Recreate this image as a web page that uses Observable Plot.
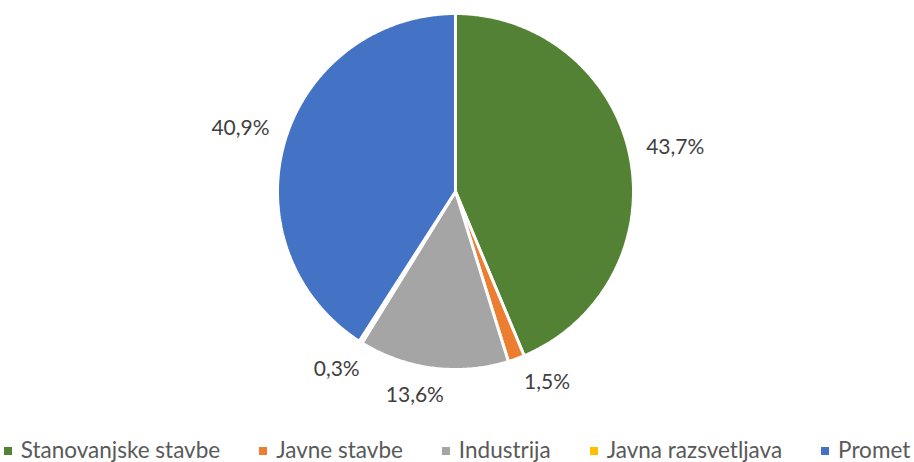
<!DOCTYPE html>
<html><head><meta charset="utf-8">
<script src="https://cdn.jsdelivr.net/npm/d3@7"></script>
<script src="https://cdn.jsdelivr.net/npm/@observablehq/plot@0.6"></script>
<style>
body{margin:0;background:#fff;font-family:Lato,"Open Sans",sans-serif;}
#chart svg{display:block}
#legend{display:flex;justify-content:center;gap:39px;font-size:22.5px;line-height:27px;color:#595959;margin-top:11px;}
#legend span.sw{display:inline-block;width:8px;height:8px;margin-right:9px;vertical-align:middle;position:relative;top:-1px}
</style></head><body>
<div id="chart"></div>
<div id="legend"></div>
<script>
const categories = ["Stanovanjske stavbe","Javne stavbe","Industrija","Javna razsvetljava","Promet"];
const values = [43.7, 1.5, 13.6, 0.3, 40.9];
const labels = ["43,7%","1,5%","13,6%","0,3%","40,9%"];
const colors = ["#548235","#ED7D31","#A5A5A5","#FFC000","#4472C4"];

const W = 914, H = 425, cx = 455, cy = 191, R = 178, FS = 21;
const total = d3.sum(values);
const ctx = document.createElement("canvas").getContext("2d");
ctx.font = `${FS}px Lato`;

let cum = 0;
const slicePts = [], lab = [];
categories.forEach((c,i)=>{
  const a0 = cum/total*2*Math.PI; cum += values[i];
  const a1 = cum/total*2*Math.PI;
  slicePts.push({c, x:0, y:0});
  const n = Math.max(2, Math.ceil((a1-a0)/(Math.PI/360)));
  for(let k=0;k<=n;k++){const a=a0+(a1-a0)*k/n; slicePts.push({c,x:Math.sin(a),y:Math.cos(a)});}
  slicePts.push({c, x:0, y:0});
  lab.push({c, t:labels[i], a:(a0+a1)/2, w:ctx.measureText(labels[i]).width, h:16});
});

// place each label just outside the rim, then resolve collisions by sliding along the rim
function place(l){
  const ux = Math.sin(l.a), uy = Math.cos(l.a);
  const rr = R + 16 + Math.abs(ux)*l.w/2 + Math.abs(uy)*l.h/2;
  l.px = cx + ux*rr; l.py = cy - uy*rr;
}
lab.forEach(place);
const padX = 40, padY = 5, step = 0.1*Math.PI/180;
for(let it=0; it<2000; it++){
  let moved = false;
  for(let i=0;i<lab.length;i++){
    const A = lab[i], B = lab[(i+1)%lab.length];
    const ox = (A.w+B.w)/2 + 2*padX - Math.abs(A.px-B.px);
    const oy = (A.h+B.h)/2 + 2*padY - Math.abs(A.py-B.py);
    if(ox>0 && oy>0){ A.a -= step; B.a += step; place(A); place(B); moved = true; }
  }
  if(!moved) break;
}
const labelPts = lab.map(l=>({c:l.c, t:l.t, x:(l.px-cx)/R, y:(cy-l.py)/R}));

const plot = Plot.plot({
  width: W, height: H, margin: 0,
  x: {domain:[-1,1], range:[cx-R, cx+R], axis:null},
  y: {domain:[-1,1], range:[cy+R, cy-R], axis:null},
  color: {domain: categories, range: colors},
  style: {fontFamily: "Lato, 'Open Sans', sans-serif"},
  marks: [
    Plot.line(slicePts, {x:"x", y:"y", z:"c", fill:"c", stroke:"white", strokeWidth:3, strokeLinejoin:"miter"}),
    Plot.text(labelPts, {x:"x", y:"y", text:"t", fontSize:FS, fill:"#404040"})
  ]
});
document.getElementById("chart").append(plot);

const lg = document.getElementById("legend");
categories.forEach((c,i)=>{
  const it = document.createElement("div");
  it.innerHTML = `<span class="sw" style="background:${colors[i]}"></span>${c}`;
  lg.append(it);
});
</script>
</body></html>
